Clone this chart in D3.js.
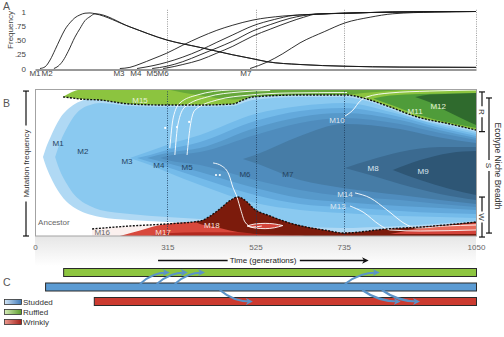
<!DOCTYPE html>
<html>
<head>
<meta charset="utf-8">
<script src="https://cdn.jsdelivr.net/npm/d3@7"></script>
<style>
  body { margin: 0; background: #fff; }
  svg { display: block; }
  svg text { font-family: "Liberation Sans", Arial, Helvetica, sans-serif; }
</style>
</head>
<body>
<svg id="chart" width="504" height="337"></svg>
<script>
// ---------- shared axis values ----------
var guideGens = [315, 525, 735];
var timeTicks = [0, 315, 525, 735, 1050];
var freqTicks = [0, 0.25, 0.5, 0.75, 1];
var freqTickLabels = ['0', '.25', '.50', '.75', '1'];

// ---------- panel A: mutation frequency over time [generation, frequency] ----------
var freqM1 = [[12,0],[24,0.03],[36,0.15],[48,0.33],[60,0.52],[71,0.68],[83,0.8],[95,0.89],[107,0.94],[119,0.97],[131,0.975],[143,0.96],[226,0.73],[314,0.5],[393,0.37],[471,0.24],[519,0.17],[552,0.12],[631,0.07],[738,0.04],[869,0.025],[1050,0.02]];
var freqM2 = [[45,0],[55,0.04],[67,0.14],[79,0.3],[95,0.55],[107,0.7],[119,0.84],[131,0.91],[143,0.96],[226,0.73],[314,0.5],[393,0.37],[471,0.24],[519,0.17],[552,0.12],[631,0.07],[738,0.04],[869,0.025],[1050,0.02]];
var freqM3 = [[202,0],[226,0.02],[250,0.08],[281,0.17],[314,0.27],[352,0.41],[393,0.55],[433,0.67],[471,0.76],[519,0.85],[590,0.92],[660,0.95],[738,0.97],[852,0.99],[1050,1]];
var freqM4 = [[243,0],[281,0.05],[314,0.11],[352,0.2],[393,0.32],[433,0.46],[471,0.59],[519,0.75],[570,0.86],[614,0.93],[660,0.95],[738,0.97],[852,0.99],[1050,1]];
var freqM5 = [[279,0],[314,0.04],[352,0.12],[393,0.24],[433,0.36],[471,0.48],[519,0.66],[560,0.77],[607,0.88],[640,0.93],[670,0.955],[738,0.97],[852,0.99],[1050,1]];
var freqM6 = [[305,0],[314,0.01],[352,0.07],[393,0.15],[433,0.27],[471,0.39],[519,0.57],[560,0.69],[607,0.82],[640,0.9],[670,0.955],[738,0.97],[852,0.99],[1050,1]];
var freqM7 = [[512,0],[552,0.11],[590,0.26],[631,0.45],[690,0.65],[738,0.8],[798,0.9],[852,0.96],[950,0.99],[1050,1]];
var freqNames = ['M1', 'M2', 'M3', 'M4', 'M5', 'M6', 'M7'];
var freqLabelGens = [0, 29, 200, 240, 279, 305, 502];

// ---------- panel B: Muller plot, each genotype as [generation, lower %, upper %] ----------
var mullerM1 = [[19,53.7,53.7],[26,47.6,59.9],[36,40.8,66.7],[48,34.0,74.1],[60,28.6,80.3],[76,23.1,85.7],[95,19.0,89.8],[119,15.6,93],[155,12.9,100],[226,10.9,100],[314,9.5,100],[369,8.2,100],[393,0,100],[1050,0,100]];
var mullerM2 = [[48,53.7,53.7],[55,47.6,59.9],[64,41.5,66.7],[76,35.4,73.5],[90,29.3,80.3],[107,24.5,85.7],[131,20.4,89.1],[155,17.7,90.5],[226,15.0,88.4],[314,12.9,87.8],[393,11.6,87.8],[471,10.5,88.4],[495,10.0,90.5],[519,9.5,92.5],[631,6.8,94.6],[733,5.4,94.6],[781,5.8,92.5],[845,6.5,86.4],[910,7.5,79.6],[988,9.0,74.8],[1050,10.2,70.7]];
var mullerM3 = [[226,53.1,53.1],[274,48.3,57.8],[314,43.5,61.9],[393,34.7,68.7],[524,22.4,83.0],[631,17.7,88.4],[733,15.6,90.5],[869,13.6,82.7],[964,12.9,75.0],[1050,12.2,69.4]];
var mullerM4 = [[243,53.1,53.1],[274,50.3,55.1],[314,46.9,58.5],[393,39.5,63.9],[524,27.9,78.2],[631,21.8,85.0],[733,19.7,87.1],[869,17.0,81.0],[964,15.6,73.6],[1050,15.0,68.0]];
var mullerM5 = [[267,53.1,53.1],[314,49.7,56.5],[393,43.5,59.9],[524,32.7,73.5],[631,25.9,81.0],[733,23.1,83.7],[869,20.4,78.9],[964,19.0,72.0],[1050,17.7,66.7]];
var mullerM6 = [[298,53.1,53.1],[314,51.7,54.4],[393,48.3,57.1],[524,38.1,68.7],[631,31.3,76.9],[733,27.2,80.3],[869,24.5,76.2],[964,21.8,70.0],[1050,19.7,65.3]];
var mullerM7 = [[495,52.4,52.4],[524,49.7,55.1],[631,38.1,68.0],[733,32.7,76.2],[869,27.9,72.8],[964,24.5,67.0],[1050,21.8,63.3]];
var mullerM8 = [[738,46.3,46.3],[798,41.5,51.7],[869,35.4,57.1],[964,28.6,60.5],[1050,24.5,60.5]];
var mullerM9 = [[852,44.9,44.9],[917,38.1,51.7],[988,32.0,56.5],[1050,27.9,57.8]];

var mullerM15 = [[67,94.6,94.8],[88,93.9,98.0],[107,93.2,99.5],[155,92.5,100],[226,89.8,100],[314,89.1,100],[393,89.1,100],[471,89.8,100],[495,92.5,100],[519,94.6,100],[631,95.9,100],[743,95.9,100],[781,93.9,100],[845,87.8,100],[910,81.0,100],[988,76.2,100],[1050,72.1,100]];
var mullerM15b = [[314,99.8,100],[393,95.5,100],[471,92.8,100],[519,94.8,100],[631,96.0,100],[743,96.2,100],[781,97.2,100],[845,98.6,100],[910,99.8,100]];
var mullerM11 = [[805,93.5,93.5],[845,89.5,95.5],[917,82.0,96.6],[988,77.0,97.0],[1050,73.5,97.3]];
var mullerM12 = [[905,94.6,94.6],[940,91.0,96.2],[976,85.5,96.6],[1020,79.5,97.0],[1050,75.5,97.3]];

var mullerM16 = [[136,0,4.8],[226,0,6.8],[314,0,8.2],[393,0,10.2],[417,0,13.5],[440,0,18.4],[464,0,24.0],[483,0,26.5],[505,0,23.1],[519,0,19.0],[560,0,13.6],[607,0,8.8],[702,0,3.4],[733,0,2.0],[838,0,4.8],[917,0,6.1],[1050,0,9.5]];
var mullerM17 = [[202,0,0],[250,0,3.8],[290,0,7.0],[314,0,8.2],[393,0,10.2],[417,0,13.5],[440,0,18.4],[464,0,24.0],[483,0,26.5],[505,0,23.1],[519,0,19.0],[560,0,13.6],[607,0,8.8],[702,0,3.4],[733,0,2.0],[838,0,4.8],[917,0,6.1],[1050,0,9.5]];
var mullerM17b = [[274,0,0],[314,0,1.8],[393,0,2.6],[464,0,2.6],[560,0,1.8],[640,0,0]];
var mullerM18 = [[381,9.5,9.8],[393,8.2,10.2],[417,6.8,13.5],[440,5.4,18.4],[464,3.8,24.0],[483,2.7,26.5],[505,2.0,23.1],[519,1.6,19.0],[560,1.0,13.6],[607,0.7,8.8],[655,0,5.8],[702,0,3.4],[733,0,2.0],[838,0,4.8],[917,0,6.1],[1050,0,9.5]];
var mullerM18b = [[505,6.8,6.8],[524,5.4,8.2],[548,5.0,8.6],[570,5.6,8.2],[590,7.1,7.1]];
var mullerM13 = [[845,1.4,1.4],[917,1.4,5.0],[988,1.4,7.2],[1050,1.4,8.8]];
var mullerM14 = [[886,4.0,4.0],[940,3.6,5.6],[1000,4.0,7.3],[1050,4.3,8.3]];

// ecotype transitions traced in white [generation, %]
var traceA = [[321,59.9],[329,80.3],[345,90.5],[386,95.9],[464,99.3],[536,99.7]];
var traceB = [[333,55.1],[340,75.5],[357,87.8],[410,94.6],[488,98.0],[560,99.0]];
var traceC = [[362,55.1],[369,73.5],[381,85.7],[433,92.5],[512,95.9],[607,97.3],[743,97.6]];
var traceM10 = [[738,81.6],[757,85.7],[774,91.8],[790,94.6],[845,97.3],[940,98.6],[1050,99.3]];
var traceM18 = [[424,49.7],[445,47.6],[462,41.5],[471,33.3],[481,26.5],[490,17.7],[500,9.5],[517,6.1],[540,6.8]];
var traceM14 = [[762,29.3],[798,25.9],[838,17.7],[886,7.5],[910,5.4],[976,6.8],[1050,7.5]];
var traceM13 = [[750,20.4],[781,16.3],[821,7.5],[845,4.1],[917,3.4],[1050,4.1]];
var markerDots = [[310,73.5],[338,74.1],[367,77.6],[431,41.5],[440,41.5]];

var labelNamesB = ['M1','M2','M3','M4','M5','M6','M7','M8','M9','M10','M11','M12','M13','M14','M15','M16','M17','M18','Ancestor'];
var labelGensB  = [55,114,219,295,362,500,602,805,924,719,905,960,721,738,250,160,305,421,45];
var labelPctsB  = [63.3,57.8,51.0,48.3,46.9,42.2,42.2,46.3,44.2,78.9,85.0,88.4,20.4,28.6,92.5,2.7,2.7,7.5,9.5];

// ecotype niche brackets [label, lower %, upper %]
var ecoNames = ['R', 'S', 'W'];
var ecoLow = [71, 2, -0.7];
var ecoHigh = [98, 93.9, 26.5];

// ---------- panel C: ecotype lineages ----------
var rowNames = ['Ruffled', 'Studded', 'Wrinkly'];
var rowStarts = [67, 24, 140];
var shiftFrom = ['Studded','Studded','Studded','Studded','Studded','Studded','Studded'];
var shiftTo   = ['Ruffled','Ruffled','Ruffled','Ruffled','Wrinkly','Wrinkly','Wrinkly'];
var shiftGen0 = [250, 290, 333, 738, 440, 779, 826];
var shiftGen1 = [314, 357, 398, 814, 512, 864, 910];
var legendNames = ['Studded', 'Ruffled', 'Wrinkly'];

// ---------- setup ----------
var svg = d3.select('#chart');
var defs = svg.append('defs');

var x = d3.scaleLinear().domain([0, 1050]).range([35, 476]);
var yA = d3.scaleLinear().domain([0, 1]).range([68.5, 11.5]);
var yB = d3.scaleLinear().domain([0, 100]).range([236, 89]);
var yC = d3.scaleBand().domain(rowNames).range([268, 305]).paddingInner(0.448);

var ecoColor = {Studded: '#5b9bd3', Ruffled: '#8dc540', Wrinkly: '#cc3b30'};

function panelLetter(t, px, py) {
    svg.append('text').attr('x', px).attr('y', py).attr('font-size', 10.5)
        .attr('fill', '#555').text(t);
}

// ========== Panel A ==========
panelLetter('A', 3, 10);
var gA = svg.append('g');

gA.selectAll('.guideA').data(guideGens.concat([1050])).enter().append('line')
    .attr('x1', function(d){ return Math.round(x(d)) + 0.5; })
    .attr('x2', function(d){ return Math.round(x(d)) + 0.5; })
    .attr('y1', yA(1.03)).attr('y2', yA(0))
    .attr('stroke', '#9a9a9a').attr('stroke-dasharray', '1,1.3');

gA.append('g').attr('transform', 'translate(0,69.5)')
    .call(d3.axisBottom(x).tickValues([]).tickSizeOuter(0))
    .select('.domain').attr('stroke', '#333');

var yAxisA = gA.append('g').attr('transform', 'translate(26,0)')
    .call(d3.axisLeft(yA).tickValues(freqTicks)
        .tickFormat(function(d, i){ return freqTickLabels[i]; })
        .tickSize(0).tickPadding(0));
yAxisA.select('.domain').remove();
yAxisA.attr('font-size', 8).selectAll('text').attr('fill', '#444');

gA.append('text').attr('transform', 'translate(13,30) rotate(-90)')
    .attr('text-anchor', 'middle').attr('font-size', 8).attr('fill', '#444').text('Frequency');

var lineA = d3.line().x(function(d){ return x(d[0]); }).y(function(d){ return yA(d[1]); })
    .curve(d3.curveMonotoneX);
gA.selectAll('.freq').data([freqM1, freqM2, freqM3, freqM4, freqM5, freqM6, freqM7]).enter()
    .append('path').attr('d', lineA).attr('fill', 'none')
    .attr('stroke', '#1a1a1a').attr('stroke-width', 0.9);

gA.selectAll('.freqLabel').data(freqNames).enter().append('text')
    .attr('x', function(d, i){ return x(freqLabelGens[i]); }).attr('y', 75.5)
    .attr('text-anchor', 'middle').attr('font-size', 8).attr('fill', '#444')
    .text(function(d){ return d; });

// ========== Panel B ==========
panelLetter('B', 3, 107);

defs.append('clipPath').attr('id', 'clipB').append('rect')
    .attr('x', x(0)).attr('y', yB(100)).attr('width', x(1050) - x(0)).attr('height', yB(0) - yB(100));

var shadow = defs.append('linearGradient').attr('id', 'shadowB')
    .attr('x1', 0).attr('y1', 0).attr('x2', 0).attr('y2', 1);
shadow.append('stop').attr('offset', 0).attr('stop-color', '#e6e6e6');
shadow.append('stop').attr('offset', 1).attr('stop-color', '#ffffff');
svg.append('rect').attr('x', x(0)).attr('y', yB(0)).attr('width', x(1050) - x(0))
    .attr('height', 30).attr('fill', 'url(#shadowB)');

var gB = svg.append('g').attr('clip-path', 'url(#clipB)');
gB.append('rect').attr('x', x(0)).attr('y', yB(100)).attr('width', x(1050) - x(0))
    .attr('height', yB(0) - yB(100)).attr('fill', '#ffffff');

var areaB = d3.area().x(function(d){ return x(d[0]); })
    .y0(function(d){ return yB(d[1]); }).y1(function(d){ return yB(d[2]); })
    .curve(d3.curveMonotoneX);

var layers = [
    [mullerM1, '#b0d9f4'], [mullerM2, '#8ac9f0'], [mullerM3, '#74bbea'], [mullerM4, '#63a9dc'],
    [mullerM5, '#5799ca'], [mullerM6, '#4f8cbd'], [mullerM7, '#467ca6'], [mullerM8, '#3b6a90'],
    [mullerM9, '#2e5675'],
    [mullerM15, '#8cc43f'], [mullerM15b, '#66a83a'], [mullerM11, '#4f9c3a'], [mullerM12, '#2f6a2d'],
    [mullerM16, '#fbf0ee'], [mullerM17, '#d8483c'], [mullerM17b, '#b2291f'], [mullerM18, '#7c1b0c'],
    [mullerM13, '#d3433a'], [mullerM14, '#e86b5b']
];
gB.selectAll('.geno').data(layers).enter().append('path')
    .attr('d', function(d){ return areaB(d[0]); })
    .attr('fill', function(d){ return d[1]; });

gB.append('path').attr('d', areaB(mullerM18b)).attr('fill', '#d4443a')
    .attr('stroke', '#fff').attr('stroke-width', 0.9);

var lineB = d3.line().x(function(d){ return x(d[0]); }).y(function(d){ return yB(d[1]); })
    .curve(d3.curveMonotoneX);
gB.selectAll('.trace').data([traceA, traceB, traceC, traceM10, traceM18, traceM14, traceM13]).enter()
    .append('path').attr('d', lineB).attr('fill', 'none')
    .attr('stroke', '#ffffff').attr('stroke-opacity', 0.9).attr('stroke-width', 1);

gB.selectAll('.dot').data(markerDots).enter().append('circle')
    .attr('cx', function(d){ return x(d[0]); }).attr('cy', function(d){ return yB(d[1]); })
    .attr('r', 1.1).attr('fill', '#fff');

// ecotype boundaries (dashed)
gB.append('path').attr('d', lineB(mullerM15.map(function(d){ return [d[0], d[1]]; })))
    .attr('fill', 'none').attr('stroke', '#111').attr('stroke-width', 1.4).attr('stroke-dasharray', '2,1.4');
gB.append('path').attr('d', lineB(mullerM16.map(function(d){ return [d[0], d[2]]; })))
    .attr('fill', 'none').attr('stroke', '#111').attr('stroke-width', 1.4).attr('stroke-dasharray', '2,1.4');

gB.selectAll('.guideB').data(guideGens).enter().append('line')
    .attr('x1', function(d){ return Math.round(x(d)) + 0.5; })
    .attr('x2', function(d){ return Math.round(x(d)) + 0.5; })
    .attr('y1', yB(100)).attr('y2', yB(0))
    .attr('stroke', '#1d3a58').attr('stroke-opacity', 0.85).attr('stroke-dasharray', '1,1.4');

var darkLabels = ['M1','M2','M3','M4','M5','M6','M7'];
var greenLabels = ['M11','M12','M15'];
var redLabels = ['M17','M18'];
var greyLabels = ['M16','Ancestor'];
gB.selectAll('.lab').data(labelNamesB).enter().append('text')
    .attr('x', function(d, i){ return x(labelGensB[i]); })
    .attr('y', function(d, i){ return yB(labelPctsB[i]); })
    .attr('dy', '0.35em').attr('text-anchor', 'middle').attr('font-size', 8)
    .attr('fill', function(d){
        if (darkLabels.indexOf(d) >= 0) return '#24425f';
        if (greenLabels.indexOf(d) >= 0) return '#e6f2d8';
        if (redLabels.indexOf(d) >= 0) return '#f7e1dc';
        if (greyLabels.indexOf(d) >= 0) return '#666';
        return '#dce6ef';
    })
    .text(function(d){ return d; });

svg.append('rect').attr('x', x(0) + 0.5).attr('y', yB(100) + 0.5)
    .attr('width', x(1050) - x(0)).attr('height', yB(0) - yB(100) - 0.5)
    .attr('fill', 'none').attr('stroke', '#a3a3a3');

var xAxisB = svg.append('g').attr('transform', 'translate(0,' + yB(0) + ')')
    .call(d3.axisBottom(x).tickValues(timeTicks).tickSize(0).tickPadding(8.5).tickFormat(d3.format('d')));
xAxisB.select('.domain').remove();
xAxisB.attr('font-size', 8).selectAll('text').attr('fill', '#666');

// brackets
function bracket(bx, top, bottom, label, rot, fontSize, gap) {
    var g = svg.append('g').attr('stroke', '#111').attr('stroke-width', 1.2);
    var mid = (top + bottom) / 2;
    g.append('line').attr('x1', bx).attr('x2', bx).attr('y1', top).attr('y2', mid - gap);
    g.append('line').attr('x1', bx).attr('x2', bx).attr('y1', mid + gap).attr('y2', bottom);
    g.append('line').attr('x1', bx - 3).attr('x2', bx + 3).attr('y1', top).attr('y2', top);
    g.append('line').attr('x1', bx - 3).attr('x2', bx + 3).attr('y1', bottom).attr('y2', bottom);
    svg.append('text').attr('transform', 'translate(' + (bx + (rot > 0 ? -2.8 : 2.8)) + ',' + mid + ') rotate(' + rot + ')')
        .attr('text-anchor', 'middle').attr('font-size', fontSize).attr('fill', '#333').text(label);
}
bracket(26, yB(98.6), yB(0), 'Mutation frequency', -90, 8, 38);
var ecoX = [482, 489, 482];
ecoNames.forEach(function(n, i){
    bracket(ecoX[i], yB(ecoHigh[i]), yB(ecoLow[i]), n, 90, 8, 5.5);
});
svg.append('text').attr('transform', 'translate(495,166) rotate(90)')
    .attr('text-anchor', 'middle').attr('font-size', 8.5).attr('fill', '#333').text('Ecotype Niche Breadth');

// time arrow
defs.append('marker').attr('id', 'arrowT').attr('viewBox', '0 0 10 10').attr('refX', 6).attr('refY', 5)
    .attr('markerWidth', 4.5).attr('markerHeight', 4.5).attr('orient', 'auto')
    .append('path').attr('d', 'M0,0 L10,5 L0,10 L3,5 z').attr('fill', '#111');
var tText = svg.append('text').attr('x', x(543)).attr('y', 263).attr('text-anchor', 'middle')
    .attr('font-size', 8).attr('fill', '#222').text('Time (generations)');
var tb = tText.node().getBBox();
svg.append('line').attr('x1', x(293)).attr('x2', tb.x - 2).attr('y1', 260.5).attr('y2', 260.5)
    .attr('stroke', '#111').attr('stroke-width', 1.5);
svg.append('line').attr('x1', tb.x + tb.width + 3).attr('x2', x(788)).attr('y1', 260.5).attr('y2', 260.5)
    .attr('stroke', '#111').attr('stroke-width', 1.5).attr('marker-end', 'url(#arrowT)');

// ========== Panel C ==========
panelLetter('C', 3, 286);

svg.selectAll('.ecoBar').data(rowNames).enter().append('rect')
    .attr('x', function(d, i){ return x(rowStarts[i]) + 0.5; })
    .attr('y', function(d){ return yC(d) + 0.5; })
    .attr('width', function(d, i){ return x(1050) - x(rowStarts[i]); })
    .attr('height', yC.bandwidth())
    .attr('fill', function(d){ return ecoColor[d]; })
    .attr('stroke', '#2a2a2a').attr('stroke-width', 1);

defs.append('marker').attr('id', 'arrowC').attr('viewBox', '0 0 10 10').attr('refX', 6).attr('refY', 5)
    .attr('markerWidth', 3.2).attr('markerHeight', 3.2).attr('orient', 'auto')
    .append('path').attr('d', 'M0,0 L10,5 L0,10 L3,5 z').attr('fill', '#5b93c7');
svg.selectAll('.shift').data(shiftGen0).enter().append('path')
    .attr('d', function(d, i){
        var up = yC(shiftTo[i]) < yC(shiftFrom[i]);
        var x0 = x(d), x1 = x(shiftGen1[i]);
        var y0 = up ? yC(shiftFrom[i]) + 1.5 : yC(shiftFrom[i]) + yC.bandwidth() - 0.5;
        var y1 = yC(shiftTo[i]) + yC.bandwidth() / 2 + 0.5;
        return 'M' + x0 + ',' + y0 + ' Q' + (x0 + (x1 - x0) * 0.45) + ',' + y1 + ' ' + x1 + ',' + y1;
    })
    .attr('fill', 'none').attr('stroke', '#5b93c7').attr('stroke-width', 2.2)
    .attr('marker-end', 'url(#arrowC)');

var gradStops = {Studded: ['#d2e5f6', '#3f79b6'], Ruffled: ['#d6ecb8', '#5c9d2c'], Wrinkly: ['#ec9a8f', '#a5201a']};
legendNames.forEach(function(n, i){
    var gr = defs.append('linearGradient').attr('id', 'lg' + i);
    gr.append('stop').attr('offset', 0).attr('stop-color', gradStops[n][0]);
    gr.append('stop').attr('offset', 1).attr('stop-color', gradStops[n][1]);
});
var legend = svg.append('g');
legend.selectAll('rect').data(legendNames).enter().append('rect')
    .attr('x', 4.5).attr('y', function(d, i){ return 299.5 + i * 10; })
    .attr('width', 17).attr('height', 5)
    .attr('fill', function(d, i){ return 'url(#lg' + i + ')'; })
    .attr('stroke', '#333').attr('stroke-width', 0.8);
legend.selectAll('text').data(legendNames).enter().append('text')
    .attr('x', 23).attr('y', function(d, i){ return 305 + i * 10; })
    .attr('font-size', 8).attr('fill', '#333').text(function(d){ return d; });
</script>
</body>
</html>
